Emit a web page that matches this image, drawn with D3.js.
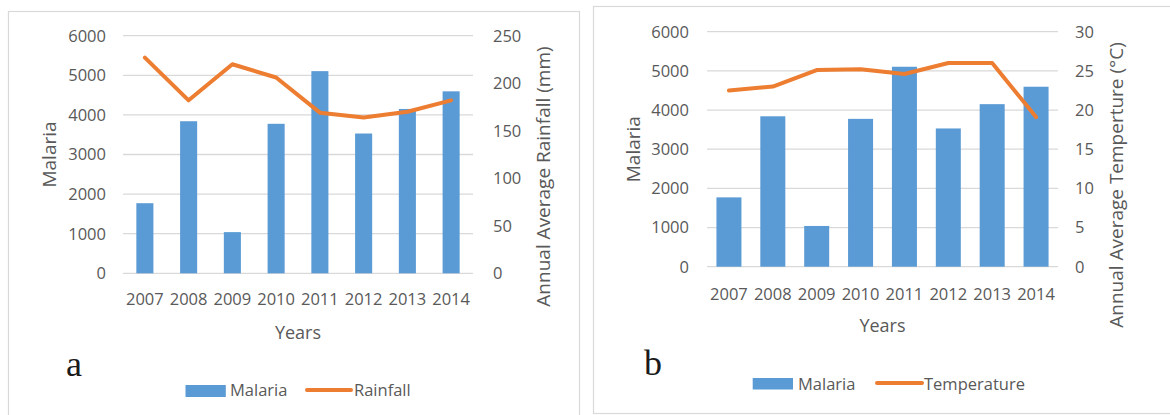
<!DOCTYPE html>
<html lang="en">
<head>
<meta charset="utf-8">
<script src="https://cdn.jsdelivr.net/npm/d3@7/dist/d3.min.js"></script>
<style>
  body { margin: 0; background: #fff; }
  svg { display: block; }
  text { font-family: "Open Sans", sans-serif; fill: #595959; }
</style>
</head>
<body>
<svg width="1170" height="415"></svg>
<script>
// data
var years = ["2007", "2008", "2009", "2010", "2011", "2012", "2013", "2014"];
var malaria = [1770, 3840, 1040, 3775, 5105, 3530, 4150, 4595];
var rainfall = [227, 182, 220, 206, 169, 164, 170, 182];
var temperature = [22.5, 23.0, 25.1, 25.2, 24.6, 26.0, 26.0, 19.1];
var malariaTicks = [0, 1000, 2000, 3000, 4000, 5000, 6000];
var rainfallTicks = [0, 50, 100, 150, 200, 250];
var temperatureTicks = [0, 5, 10, 15, 20, 25, 30];

var svg = d3.select("svg");

var panels = [
  { box: [8.5, 11.5, 571, 420], x0: 123, x1: 473, top: 35.7, bottom: 273.3, barRatio: 0.39,
    line: rainfall, lineTicks: rainfallTicks, lineMax: 250, lineName: "Rainfall",
    leftTickX: 106, rightTickX: 493, leftTitleX: 49, rightTitleX: 543, rightTitleY: 176.5,
    rightTitle: "Annual Average Rainfall (mm)", yearsY: 339, tickY: 305,
    letter: "a", letterX: 66, letterY: 376,
    legSwatch: [185.5, 385, 40.3, 12], legText1: 230, legY: 396, legLine: [307, 351, 390], legText2: 354 },
  { box: [593.5, 6.5, 600, 407], x0: 707, x1: 1058, top: 31.7, bottom: 266.7, barRatio: 0.57,
    line: temperature, lineTicks: temperatureTicks, lineMax: 30, lineName: "Temperature",
    leftTickX: 689, rightTickX: 1075, leftTitleX: 633.5, rightTitleX: 1116, rightTitleY: 185,
    rightTitle: "Annual Average Temperture (°C)", yearsY: 332, tickY: 300,
    letter: "b", letterX: 644, letterY: 375,
    legSwatch: [752.7, 378, 40.3, 11.5], legText1: 798, legY: 390, legLine: [877, 922, 383], legText2: 924 }
];

panels.forEach(function(p) {
  var g = svg.append("g");

  g.append("rect")
    .attr("x", p.box[0]).attr("y", p.box[1])
    .attr("width", p.box[2]).attr("height", p.box[3])
    .attr("fill", "none").attr("stroke", "#d9d9d9").attr("stroke-width", 1.2);

  var x = d3.scaleBand().domain(years).range([p.x0, p.x1]).padding(0);
  var y = d3.scaleLinear().domain([0, 6000]).range([p.bottom, p.top]);
  var y2 = d3.scaleLinear().domain([0, p.lineMax]).range([p.bottom, p.top]);

  // gridlines
  g.selectAll(".grid").data(malariaTicks).enter().append("line")
    .attr("x1", p.x0).attr("x2", p.x1)
    .attr("y1", function(d) { return y(d); }).attr("y2", function(d) { return y(d); })
    .attr("stroke", "#d9d9d9").attr("stroke-width", 1.3);

  // bars
  var bw = x.bandwidth() * p.barRatio;
  g.selectAll(".bar").data(malaria).enter().append("rect")
    .attr("x", function(d, i) { return x(years[i]) + (x.bandwidth() - bw) / 2; })
    .attr("y", function(d) { return y(d); })
    .attr("width", bw)
    .attr("height", function(d) { return p.bottom - y(d); })
    .attr("fill", "#5b9bd5");

  // line
  var line = d3.line()
    .x(function(d, i) { return x(years[i]) + x.bandwidth() / 2; })
    .y(function(d) { return y2(d); });
  g.append("path").datum(p.line)
    .attr("d", line)
    .attr("fill", "none").attr("stroke", "#ed7d31")
    .attr("stroke-width", 4).attr("stroke-linejoin", "round").attr("stroke-linecap", "round");

  // tick labels
  g.selectAll(".lt").data(malariaTicks).enter().append("text")
    .attr("x", p.leftTickX).attr("y", function(d) { return y(d); })
    .attr("dy", "0.36em").attr("text-anchor", "end")
    .style("font-size", "16.5px").text(function(d) { return d; });
  g.selectAll(".rt").data(p.lineTicks).enter().append("text")
    .attr("x", p.rightTickX).attr("y", function(d) { return y2(d); })
    .attr("dy", "0.36em").attr("text-anchor", "start")
    .style("font-size", "16.5px").text(function(d) { return d; });
  g.selectAll(".xt").data(years).enter().append("text")
    .attr("x", function(d) { return x(d) + x.bandwidth() / 2; }).attr("y", p.tickY)
    .attr("text-anchor", "middle")
    .style("font-size", "16.5px").text(function(d) { return d; });

  // axis titles
  g.append("text")
    .attr("x", (p.x0 + p.x1) / 2).attr("y", p.yearsY)
    .attr("text-anchor", "middle").style("font-size", "18px").text("Years");
  g.append("text")
    .attr("transform", "translate(" + p.leftTitleX + "," + (p.top + p.bottom) / 2 + ") rotate(-90)")
    .attr("dy", "0.36em").attr("text-anchor", "middle").style("font-size", "19px").text("Malaria");
  g.append("text")
    .attr("transform", "translate(" + p.rightTitleX + "," + p.rightTitleY + ") rotate(-90)")
    .attr("dy", "0.36em").attr("text-anchor", "middle").style("font-size", "19px").text(p.rightTitle);

  // panel letter
  g.append("text")
    .attr("x", p.letterX).attr("y", p.letterY)
    .style("font-family", "'Liberation Serif', serif").style("font-size", "36px")
    .style("fill", "#1a1a1a").text(p.letter);

  // legend
  g.append("rect")
    .attr("x", p.legSwatch[0]).attr("y", p.legSwatch[1])
    .attr("width", p.legSwatch[2]).attr("height", p.legSwatch[3])
    .attr("fill", "#5b9bd5");
  g.append("text").attr("x", p.legText1).attr("y", p.legY)
    .style("font-size", "16.5px").text("Malaria");
  g.append("line")
    .attr("x1", p.legLine[0]).attr("x2", p.legLine[1])
    .attr("y1", p.legLine[2]).attr("y2", p.legLine[2])
    .attr("stroke", "#ed7d31").attr("stroke-width", 4).attr("stroke-linecap", "round");
  g.append("text").attr("x", p.legText2).attr("y", p.legY)
    .style("font-size", "16.5px").text(p.lineName);
});
</script>
</body>
</html>
